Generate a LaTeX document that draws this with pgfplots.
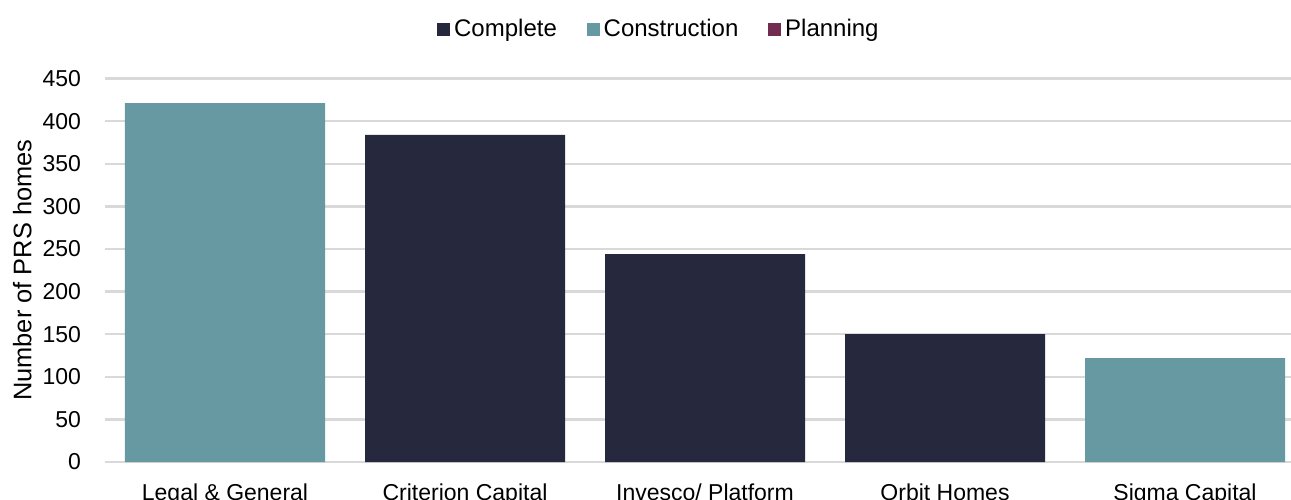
\documentclass[border=0pt]{standalone}
\usepackage{fontspec}
\setmainfont{Liberation Sans}
\usepackage{pgfplots}
\pgfplotsset{compat=1.18}
\definecolor{cComplete}{HTML}{26293D}
\definecolor{cConstr}{HTML}{6699A1}
\definecolor{cPlan}{HTML}{722C52}
\definecolor{gridc}{HTML}{D9D9D9}
\begin{document}
\fontsize{11.5}{13.5}\selectfont
\begin{tikzpicture}
\useasboundingbox (0,0) rectangle (645.5pt,249.5pt);
\begin{axis}[
  at={(52.5pt,18.5pt)}, anchor=south west,
  scale only axis, width=600pt, height=191.75pt,
  ybar stacked, bar width=100pt,
  xmin=-0.5, xmax=4.5, ymin=0, ymax=450,
  ytick={0,50,...,450},
  xtick=data,
  xticklabels={Legal \& General, Criterion Capital, Invesco/ Platform, Orbit Homes, Sigma Capital},
  axis line style={draw=none},
  major tick length=0pt,
  ymajorgrids, grid style={gridc, line width=1.2pt},
  /pgf/number format/assume math mode=true,
  ticklabel style={font=\fontsize{11.5}{13.5}\selectfont},
  yticklabel style={xshift=-8pt},
  xticklabel style={yshift=-6.7pt},
  ylabel={Number of PRS homes},
  every axis y label/.style={at={(axis description cs:-0.069,0.5)}, rotate=90, anchor=center, font=\fontsize{12.7}{14}\selectfont},
  legend style={at={(axis description cs:0.4625,1.128)}, anchor=center, draw=none, legend columns=3,
    font=\fontsize{12}{14}\selectfont,
    /tikz/every even column/.append style={column sep=13pt}},
  legend image code/.code={\fill[#1] (0pt,-3.2pt) rectangle (6.4pt,3.2pt);},
]
\addplot[fill=cComplete, draw=none] coordinates {(0,0) (1,384) (2,244) (3,150) (4,0)};
\addlegendentry{Complete}
\addplot[fill=cConstr, draw=none] coordinates {(0,421) (1,0) (2,0) (3,0) (4,122)};
\addlegendentry{Construction}
\addplot[fill=cPlan, draw=none] coordinates {(0,0) (1,0) (2,0) (3,0) (4,0)};
\addlegendentry{Planning}
\end{axis}
\end{tikzpicture}
\end{document}
